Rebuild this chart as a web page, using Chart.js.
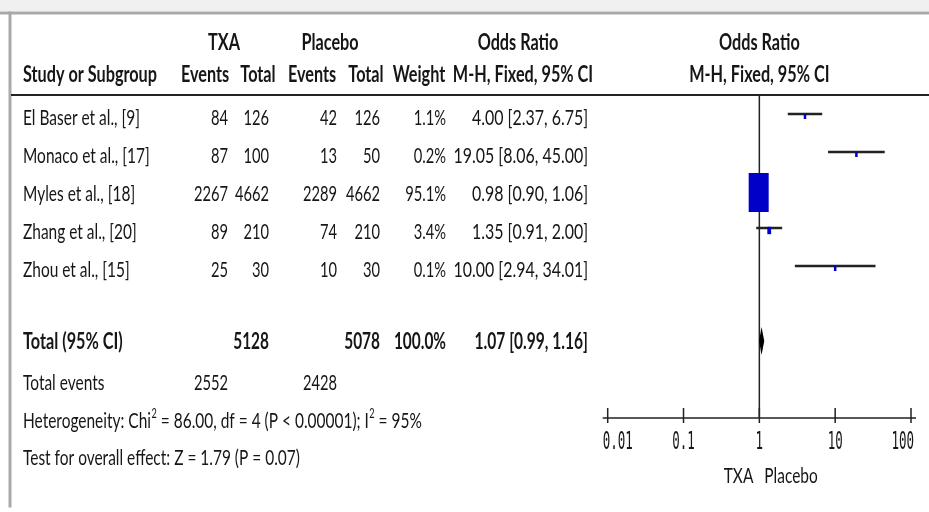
<!DOCTYPE html>
<html>
<head>
<meta charset="utf-8">
<script src="https://cdn.jsdelivr.net/npm/chart.js@4"></script>
<style>
  html, body { margin: 0; padding: 0; background: #fff; }
  canvas { display: block; }
</style>
</head>
<body>
<canvas id="forest" width="929" height="512"></canvas>
<script>
// study data
const studies = ['El Baser et al., [9]', 'Monaco et al., [17]', 'Myles et al., [18]', 'Zhang et al., [20]', 'Zhou et al., [15]'];
const txaEvents = [84, 87, 2267, 89, 25];
const txaTotal = [126, 100, 4662, 210, 30];
const placeboEvents = [42, 13, 2289, 74, 10];
const placeboTotal = [126, 50, 4662, 210, 30];
const weights = [1.1, 0.2, 95.1, 3.4, 0.1];
const oddsRatio = [4.00, 19.05, 0.98, 1.35, 10.00];
const ciLow = [2.37, 8.06, 0.90, 0.91, 2.94];
const ciHigh = [6.75, 45.00, 1.06, 2.00, 34.01];

// pooled result
const pooled = [1.07, 0.99, 1.16]; // estimate, low, high
const totalParticipants = [5128, 5078];
const totalEvents = [2552, 2428];

// axis
const xTicks = [0.01, 0.1, 1, 10, 100];
const xTickLabels = ['0.01', '0.1', '1', '10', '100'];

const TEXT = '#161616';
const LINE = '#222';
const BLUE = '#0000c8';
const FS = 22;
let SX = 0.62;  // horizontal squeeze for regular text, set below
let SXB = 0.62; // same for bold

function txt(ctx, s, x, y, align, bold, size, family, sx) {
    ctx.save();
    ctx.font = (bold ? 'bold ' : '') + (size || FS) + 'px ' + (family || 'Lato');
    const k = sx || (bold ? SXB : SX);
    const w = ctx.measureText(s).width * k;
    let x0 = x;
    if (align === 'right') x0 = x - w;
    else if (align === 'center') x0 = x - w / 2;
    ctx.translate(x0, y);
    ctx.scale(k, 1);
    ctx.textAlign = 'left';
    ctx.textBaseline = 'middle';
    ctx.fillStyle = TEXT;
    ctx.fillText(s, 0, 0);
    ctx.restore();
    return x0 + w;
}

// right-aligned cell; k tweaks the squeeze per column
function num(ctx, s, x, y, bold, k) {
    return txt(ctx, String(s), x, y, 'right', bold, FS, 'Lato', (bold ? SXB : SX) * (k || 0.95));
}

function fmtOR(e, l, h) {
    return e.toFixed(2) + ' [' + l.toFixed(2) + ', ' + h.toFixed(2) + ']';
}

const MARKER_SET = studies.length; // index of the point dataset

const forestPlugin = {
    id: 'forest',
    beforeDraw(chart) {
        const ctx = chart.ctx;
        // window frame
        ctx.save();
        ctx.fillStyle = '#f0f0f0';
        ctx.fillRect(0, 0, 929, 11);
        ctx.fillStyle = '#a9a9a9';
        ctx.fillRect(0, 11.5, 929, 3);
        ctx.fillRect(8.5, 11.5, 3, 496);
        ctx.restore();
    },
    beforeDatasetsDraw(chart) {
        const ctx = chart.ctx;
        const xs = chart.scales.x, ys = chart.scales.y;
        ctx.save();
        ctx.strokeStyle = LINE;
        // header rule
        ctx.lineWidth = 2;
        ctx.beginPath();
        ctx.moveTo(11, ys.top);
        ctx.lineTo(929, ys.top);
        ctx.stroke();
        // line of no effect
        const x1 = xs.getPixelForValue(1);
        ctx.lineWidth = 1.5;
        ctx.beginPath();
        ctx.moveTo(x1, ys.top);
        ctx.lineTo(x1, ys.bottom);
        ctx.stroke();
        ctx.restore();
    },
    afterDatasetsDraw(chart) {
        const ctx = chart.ctx;
        const xs = chart.scales.x, ys = chart.scales.y;

        // weight boxes on top of the CI lines, area ~ weight, a bit below the line
        const pts = chart.getDatasetMeta(MARKER_SET).data;
        ctx.save();
        ctx.fillStyle = BLUE;
        pts.forEach((p, i) => {
            const f = Math.sqrt(weights[i] / 95.1);
            const bw = Math.max(2.5, 20 * f);
            const bh = Math.max(5, 39 * f);
            ctx.fillRect(p.x - bw / 2, p.y + 2.5 - bh / 2, bw, bh);
        });
        ctx.restore();

        // pooled diamond
        const yd = ys.getPixelForValue(6) - 1;
        ctx.save();
        ctx.fillStyle = '#000';
        ctx.beginPath();
        ctx.moveTo(xs.getPixelForValue(pooled[1]), yd);
        ctx.lineTo(xs.getPixelForValue(pooled[0]), yd - 14);
        ctx.lineTo(xs.getPixelForValue(pooled[2]), yd);
        ctx.lineTo(xs.getPixelForValue(pooled[0]), yd + 14);
        ctx.closePath();
        ctx.fill();

        // x axis with ticks crossing the line
        const ya = ys.bottom;
        ctx.strokeStyle = LINE;
        ctx.lineWidth = 1.5;
        ctx.beginPath();
        ctx.moveTo(xs.left - 5, ya);
        ctx.lineTo(xs.right + 5, ya);
        xTicks.forEach(t => {
            const px = xs.getPixelForValue(t);
            ctx.moveTo(px, ya - 10);
            ctx.lineTo(px, ya + 5);
        });
        ctx.stroke();
        ctx.restore();

        xTicks.forEach((t, i) => {
            const px = xs.getPixelForValue(t);
            let align = 'center', ax = px;
            if (i === 0) { align = 'left'; ax = xs.left - 5; }
            if (i === xTicks.length - 1) { align = 'right'; ax = xs.right + 3; }
            txt(ctx, xTickLabels[i], ax, ya + 24, align, false, 25, 'DejaVu Sans Mono', 0.5);
        });
        const x1 = xs.getPixelForValue(1);
        txt(ctx, 'TXA', x1 - 6, ya + 58, 'right');
        txt(ctx, 'Placebo', x1 + 5, ya + 58, 'left');
    },
    afterDraw(chart) {
        const ctx = chart.ctx;
        const xs = chart.scales.x, ys = chart.scales.y;
        const xr = xs.getPixelForValue(1);

        // column headers
        const h1 = 43, h2 = 75;
        txt(ctx, 'TXA', 224, h1, 'center', true);
        txt(ctx, 'Placebo', 330, h1, 'center', true);
        txt(ctx, 'Odds Ratio', 518, h1, 'center', true);
        txt(ctx, 'Odds Ratio', xr, h1, 'center', true);
        txt(ctx, 'Study or Subgroup', 23, h2, 'left', true);
        txt(ctx, 'Events', 205, h2, 'center', true);
        txt(ctx, 'Total', 258, h2, 'center', true);
        txt(ctx, 'Events', 312, h2, 'center', true);
        txt(ctx, 'Total', 366, h2, 'center', true);
        txt(ctx, 'Weight', 419, h2, 'center', true);
        txt(ctx, 'M-H, Fixed, 95% CI', 523, h2, 'center', true);
        txt(ctx, 'M-H, Fixed, 95% CI', xr, h2, 'center', true);

        // study rows
        studies.forEach((s, i) => {
            const y = ys.getPixelForValue(i) + 4;
            txt(ctx, s, 23, y, 'left');
            num(ctx, txaEvents[i], 228, y);
            num(ctx, txaTotal[i], 269, y);
            num(ctx, placeboEvents[i], 337, y);
            num(ctx, placeboTotal[i], 380, y);
            num(ctx, weights[i].toFixed(1) + '%', 446, y);
            num(ctx, fmtOR(oddsRatio[i], ciLow[i], ciHigh[i]), 588, y, false, 1.03);
        });

        // totals
        let y = ys.getPixelForValue(6);
        txt(ctx, 'Total (95% CI)', 23, y, 'left', true);
        num(ctx, totalParticipants[0], 269, y, true);
        num(ctx, totalParticipants[1], 380, y, true);
        num(ctx, '100.0%', 446, y, true);
        num(ctx, fmtOR(pooled[0], pooled[1], pooled[2]), 588, y, true, 0.96);

        y = ys.getPixelForValue(7) + 3;
        txt(ctx, 'Total events', 23, y, 'left');
        num(ctx, totalEvents[0], 228, y);
        num(ctx, totalEvents[1], 337, y);

        y = ys.getPixelForValue(8) + 3;
        let x = txt(ctx, 'Heterogeneity: Chi', 23, y, 'left');
        x = txt(ctx, '2', x + 0.5, y - 7, 'left', false, 13);
        x = txt(ctx, ' = 86.00, df = 4 (P < 0.00001); I', x, y, 'left');
        x = txt(ctx, '2', x + 0.5, y - 7, 'left', false, 13);
        txt(ctx, ' = 95%', x, y, 'left');

        y = ys.getPixelForValue(9) + 2;
        txt(ctx, 'Test for overall effect: Z = 1.79 (P = 0.07)', 23, y, 'left');
    }
};

const canvas = document.getElementById('forest');
// squeeze the text to the narrow face of the original
(function () {
    const c = canvas.getContext('2d');
    c.font = FS + 'px Lato';
    SX = 117 / c.measureText(studies[0]).width;
    c.font = 'bold ' + FS + 'px Lato';
    SXB = 134 / c.measureText('Study or Subgroup').width;
})();

const ciSets = studies.map((s, i) => ({
    type: 'line',
    data: [{ x: ciLow[i], y: i }, { x: ciHigh[i], y: i }],
    borderColor: LINE,
    borderWidth: 2.5,
    pointRadius: 0,
    showLine: true
}));

// point estimates; the boxes are painted by the plugin at these points
const markerSet = {
    type: 'scatter',
    data: studies.map((s, i) => ({ x: oddsRatio[i], y: i })),
    pointRadius: 0
};

new Chart(canvas, {
    type: 'scatter',
    data: { datasets: [...ciSets, markerSet] },
    options: {
        responsive: false,
        animation: false,
        devicePixelRatio: 1,
        layout: { padding: { left: 607.7, right: 18, top: 95, bottom: 94 } },
        plugins: { legend: { display: false }, tooltip: { enabled: false } },
        scales: {
            x: { type: 'logarithmic', min: 0.01, max: 100, display: false },
            y: { type: 'linear', min: -0.5, max: 8, reverse: true, display: false }
        }
    },
    plugins: [forestPlugin]
});
</script>
</body>
</html>
